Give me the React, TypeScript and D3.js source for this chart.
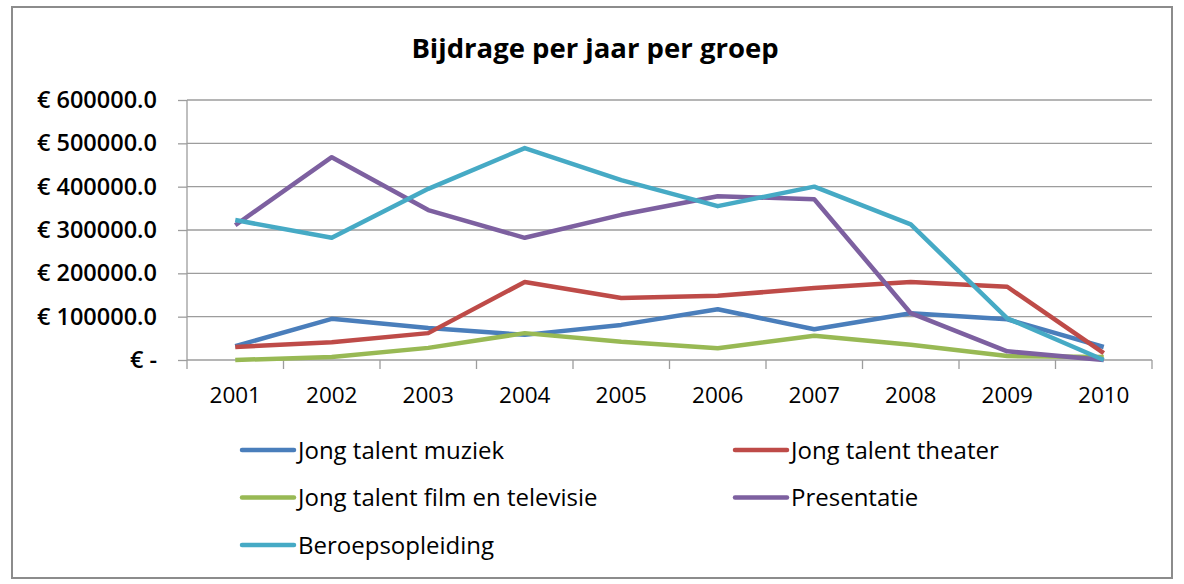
import React, { useRef, useEffect } from 'react';
import { select, scaleBand, scaleLinear, line, axisLeft, axisBottom } from 'd3';

const years = ['2001', '2002', '2003', '2004', '2005', '2006', '2007', '2008', '2009', '2010'];
const yTicks = [0, 100000, 200000, 300000, 400000, 500000, 600000];

const muziek = [32000, 95000, 74000, 58000, 81000, 117000, 71000, 108000, 94000, 30000];
const theater = [30000, 41000, 62000, 180000, 143000, 148000, 166000, 180000, 169000, 16000];
const film = [0, 7000, 28000, 62000, 42000, 27000, 56000, 35000, 9000, 7000];
const presentatie = [311000, 468000, 346000, 282000, 335000, 378000, 371000, 108000, 20000, 0];
const beroeps = [323000, 282000, 395000, 489000, 415000, 355000, 400000, 313000, 96000, 0];

const seriesNames = ['Jong talent muziek', 'Jong talent theater', 'Jong talent film en televisie', 'Presentatie', 'Beroepsopleiding'];
const seriesValues = [muziek, theater, film, presentatie, beroeps];
const colors = ['#4a7ebb', '#be4b48', '#98b954', '#7d60a0', '#46aac5'];

const W = 1184;
const H = 584;
const font = '"Open Sans", Lato, sans-serif';

const App = () => {
  const svgRef = useRef<SVGSVGElement>(null);

  useEffect(() => {
    const svg = select(svgRef.current);
    svg.selectAll('*').remove();

    const x = scaleBand().domain(years).range([187, 1152]);
    const y = scaleLinear().domain([0, 600000]).range([360, 100]);

    // chart frame
    svg.append('rect')
      .attr('x', 12).attr('y', 7).attr('width', 1160).attr('height', 571)
      .attr('fill', '#fff').attr('stroke', '#8c8c8c').attr('stroke-width', 2);

    svg.append('text')
      .attr('x', 595).attr('y', 58)
      .attr('text-anchor', 'middle')
      .attr('font-family', font).attr('font-size', 27.5).attr('font-weight', 700)
      .attr('fill', '#000')
      .text('Bijdrage per jaar per groep');

    // gridlines
    svg.append('g')
      .selectAll('line')
      .data(yTicks.filter(d => d > 0))
      .join('line')
      .attr('x1', 187).attr('x2', 1152)
      .attr('y1', d => y(d)).attr('y2', d => y(d))
      .attr('stroke', '#9d9d9d').attr('stroke-width', 1.3);

    const yAxis = axisLeft(y)
      .tickValues(yTicks)
      .tickSize(9)
      .tickPadding(21)
      .tickFormat(d => (+d === 0 ? '€ -' : `€ ${d}.0`));
    const gy = svg.append('g').attr('transform', 'translate(187,0)').call(yAxis);
    gy.select('.domain').attr('stroke', '#9d9d9d').attr('stroke-width', 1.3).attr('d', 'M0,100V369');
    gy.selectAll('.tick line').attr('stroke', '#9d9d9d').attr('stroke-width', 1.3);
    gy.selectAll('.tick text')
      .attr('font-family', font).attr('font-size', 23.5).attr('font-weight', 600)
      .attr('fill', '#000');

    const xAxis = axisBottom(x).tickSize(0).tickPadding(27);
    const gx = svg.append('g').attr('transform', 'translate(0,360)').call(xAxis);
    gx.select('.domain').attr('stroke', '#9d9d9d').attr('stroke-width', 1.3).attr('d', 'M187,0H1152');
    gx.selectAll('.tick text')
      .attr('font-family', font).attr('font-size', 22.5)
      .attr('fill', '#000');

    // category boundary ticks
    svg.append('g')
      .selectAll('line')
      .data(years)
      .join('line')
      .attr('x1', d => (x(d) as number) + x.bandwidth())
      .attr('x2', d => (x(d) as number) + x.bandwidth())
      .attr('y1', 360).attr('y2', 369)
      .attr('stroke', '#9d9d9d').attr('stroke-width', 1.3);

    const path = line<number>()
      .x((_, i) => (x(years[i]) as number) + x.bandwidth() / 2)
      .y(d => y(d));

    svg.append('g')
      .selectAll('path')
      .data(seriesValues)
      .join('path')
      .attr('d', d => path(d))
      .attr('fill', 'none')
      .attr('stroke', (_, i) => colors[i])
      .attr('stroke-width', 4.5)
      .attr('stroke-linejoin', 'round');

    // legend
    const legend = svg.append('g')
      .selectAll('g')
      .data(seriesNames)
      .join('g')
      .attr('transform', (_, i) => `translate(${i % 2 === 0 ? 242 : 735},${450 + Math.floor(i / 2) * 47.5})`);
    legend.append('line')
      .attr('x1', 0).attr('x2', 52).attr('y1', 0).attr('y2', 0)
      .attr('stroke', (_, i) => colors[i]).attr('stroke-width', 4.5).attr('stroke-linecap', 'round');
    legend.append('text')
      .attr('x', 56).attr('y', 8.5)
      .attr('font-family', font).attr('font-size', 24)
      .attr('fill', '#000')
      .text(d => d);
  }, []);

  return (
    <svg ref={svgRef} width={W} height={H} style={{ position: 'absolute', left: 0, top: 0 }} />
  );
};

export default App;
